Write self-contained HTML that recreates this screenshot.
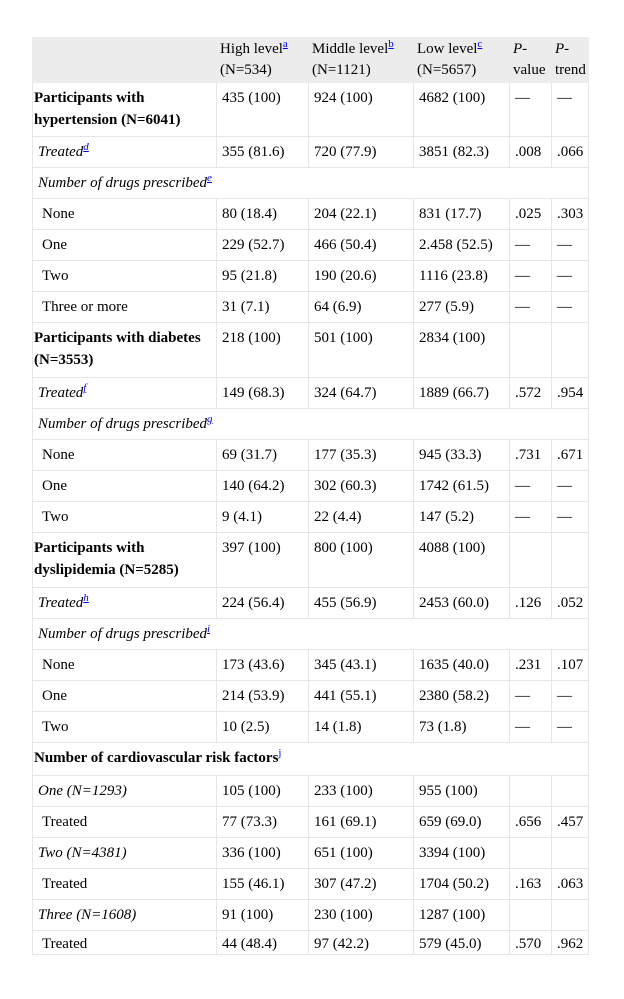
<!DOCTYPE html>
<html><head><meta charset="utf-8"><style>
body{margin:0;background:#fff;width:624px;height:999px;overflow:hidden}
table{position:absolute;left:32px;top:37px;border-collapse:collapse;table-layout:fixed;width:556px;font-family:"Liberation Serif",serif;font-size:15px;line-height:22px;color:#000}
td{border:1px solid #e6e6e6;vertical-align:top;padding:4px 5px 0 5px;overflow:hidden;white-space:nowrap}
td:first-child{padding-left:1px}
tr.h td{background:#ececec;border-color:#ececec;padding:0 3px;vertical-align:middle;white-space:normal;line-height:21px}
td.w{white-space:normal}
sup{font-size:11px;line-height:0;color:#00e;text-decoration:underline;vertical-align:6px}
.i1{padding-left:5px!important;font-style:italic}
.i2{padding-left:9px!important}
tr.last td{line-height:19px;padding-top:4px}
</style></head><body>
<table>
<colgroup><col style="width:184px"><col style="width:92px"><col style="width:105px"><col style="width:96px"><col style="width:42px"><col style="width:37px"></colgroup>
<tr class="h" style="height:45px"><td></td><td>High level<sup>a</sup><br>(N=534)</td><td>Middle level<sup>b</sup><br>(N=1121)</td><td>Low level<sup>c</sup><br>(N=5657)</td><td><i>P</i>-<br>value</td><td><i>P</i>-<br>trend</td></tr>
<tr style="height:54px"><td class="w"><b>Participants with hypertension (N=6041)</b></td><td>435 (100)</td><td>924 (100)</td><td>4682 (100)</td><td>—</td><td>—</td></tr>
<tr style="height:31px"><td class="i1">Treated<sup>d</sup></td><td>355 (81.6)</td><td>720 (77.9)</td><td>3851 (82.3)</td><td>.008</td><td>.066</td></tr>
<tr style="height:31px"><td class="i1" colspan="6">Number of drugs prescribed<sup>e</sup></td></tr>
<tr style="height:31px"><td class="i2">None</td><td>80 (18.4)</td><td>204 (22.1)</td><td>831 (17.7)</td><td>.025</td><td>.303</td></tr>
<tr style="height:31px"><td class="i2">One</td><td>229 (52.7)</td><td>466 (50.4)</td><td>2.458 (52.5)</td><td>—</td><td>—</td></tr>
<tr style="height:31px"><td class="i2">Two</td><td>95 (21.8)</td><td>190 (20.6)</td><td>1116 (23.8)</td><td>—</td><td>—</td></tr>
<tr style="height:31px"><td class="i2">Three or more</td><td>31 (7.1)</td><td>64 (6.9)</td><td>277 (5.9)</td><td>—</td><td>—</td></tr>
<tr style="height:55px"><td class="w"><b>Participants with diabetes (N=3553)</b></td><td>218 (100)</td><td>501 (100)</td><td>2834 (100)</td><td></td><td></td></tr>
<tr style="height:31px"><td class="i1">Treated<sup>f</sup></td><td>149 (68.3)</td><td>324 (64.7)</td><td>1889 (66.7)</td><td>.572</td><td>.954</td></tr>
<tr style="height:31px"><td class="i1" colspan="6">Number of drugs prescribed<sup>g</sup></td></tr>
<tr style="height:31px"><td class="i2">None</td><td>69 (31.7)</td><td>177 (35.3)</td><td>945 (33.3)</td><td>.731</td><td>.671</td></tr>
<tr style="height:31px"><td class="i2">One</td><td>140 (64.2)</td><td>302 (60.3)</td><td>1742 (61.5)</td><td>—</td><td>—</td></tr>
<tr style="height:31px"><td class="i2">Two</td><td>9 (4.1)</td><td>22 (4.4)</td><td>147 (5.2)</td><td>—</td><td>—</td></tr>
<tr style="height:55px"><td class="w"><b>Participants with dyslipidemia (N=5285)</b></td><td>397 (100)</td><td>800 (100)</td><td>4088 (100)</td><td></td><td></td></tr>
<tr style="height:31px"><td class="i1">Treated<sup>h</sup></td><td>224 (56.4)</td><td>455 (56.9)</td><td>2453 (60.0)</td><td>.126</td><td>.052</td></tr>
<tr style="height:31px"><td class="i1" colspan="6">Number of drugs prescribed<sup>i</sup></td></tr>
<tr style="height:31px"><td class="i2">None</td><td>173 (43.6)</td><td>345 (43.1)</td><td>1635 (40.0)</td><td>.231</td><td>.107</td></tr>
<tr style="height:31px"><td class="i2">One</td><td>214 (53.9)</td><td>441 (55.1)</td><td>2380 (58.2)</td><td>—</td><td>—</td></tr>
<tr style="height:31px"><td class="i2">Two</td><td>10 (2.5)</td><td>14 (1.8)</td><td>73 (1.8)</td><td>—</td><td>—</td></tr>
<tr style="height:33px"><td colspan="6"><b>Number of cardiovascular risk factors</b><sup>j</sup></td></tr>
<tr style="height:31px"><td class="i1">One (N=1293)</td><td>105 (100)</td><td>233 (100)</td><td>955 (100)</td><td></td><td></td></tr>
<tr style="height:31px"><td class="i2">Treated</td><td>77 (73.3)</td><td>161 (69.1)</td><td>659 (69.0)</td><td>.656</td><td>.457</td></tr>
<tr style="height:31px"><td class="i1">Two (N=4381)</td><td>336 (100)</td><td>651 (100)</td><td>3394 (100)</td><td></td><td></td></tr>
<tr style="height:31px"><td class="i2">Treated</td><td>155 (46.1)</td><td>307 (47.2)</td><td>1704 (50.2)</td><td>.163</td><td>.063</td></tr>
<tr style="height:31px"><td class="i1">Three (N=1608)</td><td>91 (100)</td><td>230 (100)</td><td>1287 (100)</td><td></td><td></td></tr>
<tr class="last"><td class="i2">Treated</td><td>44 (48.4)</td><td>97 (42.2)</td><td>579 (45.0)</td><td>.570</td><td>.962</td></tr>
</table>
</body></html>
